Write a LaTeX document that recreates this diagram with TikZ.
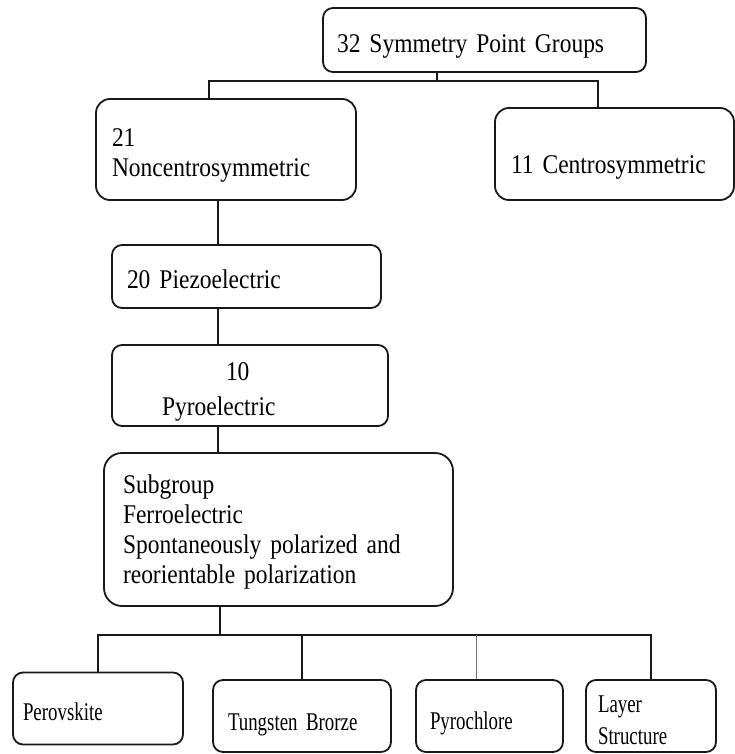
\documentclass[tikz,border=0pt]{standalone}
\usepackage{fontspec}
\setmainfont{Liberation Serif}
\newfontfamily\tallserif[FakeStretch=0.87, WordSpace=0.6]{Liberation Serif}
\newfontfamily\narrowserif[FakeStretch=0.74, WordSpace=0.7]{Liberation Serif}
\usetikzlibrary{calc}

\begin{document}
\begin{tikzpicture}[x=1pt, y=-1pt,
	grp/.style={draw=black!90, line width=1.8pt, rounded corners=10pt, inner sep=0pt, align=left, text=black, text depth=0pt, font=\tallserif\fontsize{27}{30}\selectfont},
	leaf/.style={grp, minimum height=72pt, font=\narrowserif\fontsize{25.5}{32}\selectfont},
	link/.style={line width=1.3pt, black!90}]
	\useasboundingbox (0,0) rectangle (735,754);
	% group boxes
	\node[grp, minimum width=323pt, minimum height=64pt, text width=295pt, text height=26pt] (sym) at (484.5,40) {32 Symmetry Point Groups};
	\node[grp, rounded corners=14pt, minimum width=260pt, minimum height=101pt, text width=228pt, text height=25pt, text depth=30pt] (nonc) at (226,149.5) {21\\Noncentrosymmetric};
	\node[grp, rounded corners=14pt, minimum width=239pt, minimum height=92pt, text width=207pt, text height=38pt] (cent) at (614.5,154) {11 Centrosymmetric};
	\node[grp, minimum width=269pt, minimum height=63pt, text width=239pt, text height=23pt] (piezo) at (246.5,276.5) {20 Piezoelectric};
	\node[grp, minimum width=276pt, minimum height=81pt, text width=176pt, text height=24pt, text depth=35pt] (pyro) at (250,385.5) {\hspace*{64pt}10\\[5pt]Pyroelectric};
	\node[grp, rounded corners=18pt, minimum width=349pt, minimum height=153pt, text width=311pt, text height=17pt, text depth=90pt] (sub) at (278.5,529.5) {Subgroup\\Ferroelectric\\Spontaneously polarized and\\reorientable polarization};
	% structure families
	\foreach \n/\cx/\cy/\w/\tw/\th/\td/\t in {perov/98/708.5/170/150/23/0/Perovskite, tung/302/716/178/148/28/0/Tungsten Brorze, pyc/489.5/716/147/119/26/0/Pyrochlore, lay/651/716/130/106/24/32/{Layer\\Structure}}
		\node[leaf, minimum width=\w pt, text width=\tw pt, text height=\th pt, text depth=\td pt] (\n) at (\cx,\cy) {\t};
	% connectors
	\coordinate (topTap) at (437,81);
	\coordinate (leftTap) at (209,81);
	\coordinate (rightTap) at (598,81);
	\draw[link] (sym.south -| topTap) -- (topTap);
	\draw[link] (nonc.north -| leftTap) -- (leftTap) -- (rightTap) -- (cent.north -| rightTap);
	\coordinate (spine) at (218,400);
	\draw[link] (nonc.south -| spine) -- (piezo.north -| spine);
	\draw[link] (piezo.south -| spine) -- (pyro.north -| spine);
	\draw[link] (pyro.south -| spine) -- (sub.north -| spine);
	\coordinate (busTap) at (220,635);
	\draw[link] (sub.south -| busTap) -- (busTap);
	\draw[link] (perov.north) |- (lay.north |- busTap) -- (lay.north);
	\draw[link] (tung.north |- busTap) -- (tung.north);
	\coordinate (pycTap) at (476,635);
	\draw[link, line width=0.7pt, black!55] (pycTap) -- (pyc.north -| pycTap);
\end{tikzpicture}
\end{document}
